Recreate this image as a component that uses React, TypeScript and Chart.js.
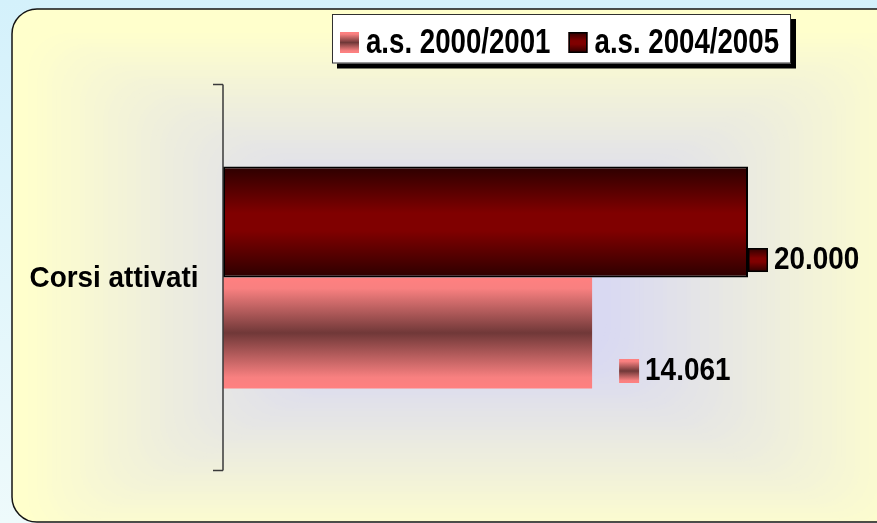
import React, { useEffect, useRef } from 'react';
import { Chart, registerables } from 'chart.js';

Chart.register(...registerables);

// ---- data ----
const categories = ['Corsi attivati'];
const seriesLabels = ['a.s. 2000/2001', 'a.s. 2004/2005'];
const values2000 = [14061];
const values2004 = [20000];
const axisMax = 22000;

const W = 877;
const H = 523;
const FONT = "'Liberation Sans', Arial, Helvetica, sans-serif";
const CAT_PCT = 0.575;

const pinkStops: [number, string][] = [
  [0, '#ff8080'],
  [0.1, '#f88080'],
  [0.5, '#703838'],
  [0.9, '#f88080'],
  [1, '#ff8080'],
];
const darkStops: [number, string][] = [
  [0, '#2c0000'],
  [0.42, '#800000'],
  [0.58, '#800000'],
  [1, '#2c0000'],
];

const fmt = (v: number) => String(v).replace(/\B(?=(\d{3})+(?!\d))/g, '.');

function vGrad(ctx: CanvasRenderingContext2D, top: number, bottom: number, stops: [number, string][]) {
  const g = ctx.createLinearGradient(0, top, 0, bottom);
  stops.forEach(([o, c]) => g.addColorStop(o, c));
  return g;
}

const barGradient = (stops: [number, string][]) => (c: any) => {
  const chart = c.chart;
  const area = chart.chartArea;
  if (!area || !chart.scales.y) return stops[2][1];
  const n = chart.data.labels.length;
  const nd = chart.data.datasets.length;
  const band = ((area.bottom - area.top) / n) * CAT_PCT;
  const chunk = band / nd;
  const top = chart.scales.y.getPixelForValue(c.dataIndex) - band / 2 + c.datasetIndex * chunk;
  return vGrad(chart.ctx, top, top + chunk, stops);
};

function drawText(
  ctx: CanvasRenderingContext2D,
  text: string,
  x: number,
  y: number,
  size: number,
  sx: number,
  align: CanvasTextAlign = 'left'
) {
  ctx.save();
  ctx.font = `bold ${size}px ${FONT}`;
  ctx.textAlign = align;
  ctx.textBaseline = 'alphabetic';
  ctx.fillStyle = '#000';
  ctx.translate(x, y);
  ctx.scale(sx, 1);
  ctx.fillText(text, 0, 0);
  const w = ctx.measureText(text).width * sx;
  ctx.restore();
  return w;
}

function measure(ctx: CanvasRenderingContext2D, text: string, size: number, sx: number) {
  ctx.save();
  ctx.font = `bold ${size}px ${FONT}`;
  const w = ctx.measureText(text).width * sx;
  ctx.restore();
  return w;
}

function lerp(a: number[], b: number[], t: number) {
  return `rgb(${a.map((v, i) => Math.round(v + (b[i] - v) * t)).join(',')})`;
}

function drawSwatch(ctx: CanvasRenderingContext2D, x: number, y: number, w: number, h: number, stops: [number, string][], border: boolean) {
  ctx.save();
  ctx.fillStyle = vGrad(ctx, y, y + h, stops);
  ctx.fillRect(x, y, w, h);
  if (border) {
    ctx.strokeStyle = '#000';
    ctx.lineWidth = 1.5;
    ctx.strokeRect(x + 0.75, y + 0.75, w - 1.5, h - 1.5);
  }
  ctx.restore();
}

const decorPlugin = {
  id: 'decor',
  beforeDraw(chart: any) {
    const ctx: CanvasRenderingContext2D = chart.ctx;
    ctx.save();
    const og = ctx.createLinearGradient(0, 0, 0, H);
    og.addColorStop(0, '#d4f1fb');
    og.addColorStop(1, '#eefafb');
    ctx.fillStyle = og;
    ctx.fillRect(0, 0, W, H);

    const fx = 12, fy = 9, fw = W - fx + 40, fh = 522 - fy, r = 25;
    ctx.beginPath();
    (ctx as any).roundRect(fx, fy, fw, fh, r);
    ctx.save();
    ctx.clip();
    const yellow = [255, 255, 204];
    const lav = [217, 217, 242];
    ctx.fillStyle = lerp(yellow, lav, 0);
    ctx.fillRect(fx, fy, fw, fh);
    const cx = 470, cy = 285, hw = 470, hh = 268;
    const N = 100;
    for (let k = N; k >= 0; k--) {
      const d = k / N;
      const f = Math.max(0, Math.min(1, (0.95 - d) / 0.65));
      ctx.fillStyle = lerp(yellow, lav, f);
      const rr = Math.min(d * hh, 40);
      ctx.beginPath();
      (ctx as any).roundRect(cx - d * hw, cy - d * hh, 2 * d * hw, 2 * d * hh, rr);
      ctx.fill();
      if (f >= 1) break;
    }
    ctx.restore();
    ctx.beginPath();
    (ctx as any).roundRect(fx, fy, fw, fh, r);
    ctx.strokeStyle = '#151515';
    ctx.lineWidth = 1.5;
    ctx.stroke();
    ctx.restore();
  },
  afterDatasetsDraw(chart: any) {
    const ctx: CanvasRenderingContext2D = chart.ctx;
    const xs = chart.scales.x;
    const ys = chart.scales.y;
    const area = chart.chartArea;
    const x0 = xs.getPixelForValue(0);

    // category axis line with boundary ticks
    ctx.save();
    ctx.strokeStyle = '#3a3a3a';
    ctx.lineWidth = 1.5;
    ctx.beginPath();
    ctx.moveTo(x0, area.top);
    ctx.lineTo(x0, area.bottom);
    const n = categories.length;
    const step = (area.bottom - area.top) / n;
    for (let i = 0; i <= n; i++) {
      const ty = area.top + i * step;
      ctx.moveTo(x0 - 10, ty);
      ctx.lineTo(x0, ty);
    }
    ctx.stroke();
    ctx.restore();

    // category labels
    categories.forEach((c, i) => {
      const cy = ys.getPixelForValue(i);
      drawText(ctx, c, x0 - 24.5, cy + 9, 30, 0.93, 'right');
    });

    // value labels with legend keys
    const dxs = [0, 27];
    chart.data.datasets.forEach((ds: any, di: number) => {
      const meta = chart.getDatasetMeta(di);
      const stops = di === 0 ? darkStops : pinkStops;
      meta.data.forEach((el: any, i: number) => {
        const { x, y } = el.getProps(['x', 'y'], true);
        const sx = x + dxs[di];
        drawSwatch(ctx, sx, y + 26, 20, 24, stops, di === 0);
        drawText(ctx, fmt(ds.data[i]), sx + 26, y + 47, 31, 0.9, 'left');
      });
    });

    // legend box
    const lsize = 35, lsx = 0.79;
    const items = [
      { label: seriesLabels[0], stops: pinkStops, border: false },
      { label: seriesLabels[1], stops: darkStops, border: true },
    ];
    const widths = items.map((it) => measure(ctx, it.label, lsize, lsx));
    const pad = 8, swW = 19, swGap = 7, itemGap = 18;
    const total = pad + widths.reduce((s, w) => s + swW + swGap + w, 0) + itemGap * (items.length - 1) + 12;
    const bx = 561.5 - total / 2, by = 14, bh = 49.5;
    ctx.save();
    ctx.fillStyle = '#000';
    ctx.fillRect(bx + 5, by + 5, total, bh);
    ctx.fillStyle = '#fff';
    ctx.fillRect(bx, by, total, bh);
    ctx.strokeStyle = '#303030';
    ctx.lineWidth = 1;
    ctx.strokeRect(bx + 0.5, by + 0.5, total - 1, bh - 1);
    ctx.restore();
    let cx = bx + pad;
    items.forEach((it, k) => {
      drawSwatch(ctx, cx, 32, swW, 21, it.stops, it.border);
      cx += swW + swGap;
      drawText(ctx, it.label, cx, 53.3, lsize, lsx, 'left');
      cx += widths[k] + itemGap;
    });
  },
};

export default function App() {
  const ref = useRef<HTMLCanvasElement | null>(null);
  useEffect(() => {
    if (!ref.current) return;
    const chart = new Chart(ref.current, {
      type: 'bar',
      data: {
        labels: categories,
        datasets: [
          {
            label: seriesLabels[1],
            data: values2004,
            backgroundColor: barGradient(darkStops),
            borderColor: '#000',
            borderWidth: 2,
            borderSkipped: false,
            categoryPercentage: CAT_PCT,
            barPercentage: 1,
          },
          {
            label: seriesLabels[0],
            data: values2000,
            backgroundColor: barGradient(pinkStops),
            borderWidth: 0,
            categoryPercentage: CAT_PCT,
            barPercentage: 1,
          },
        ],
      },
      options: {
        indexAxis: 'y',
        responsive: false,
        animation: false,
        devicePixelRatio: 1,
        layout: { padding: { left: 223, right: 76.5, top: 84.5, bottom: 52.5 } },
        scales: {
          x: { display: false, min: 0, max: axisMax },
          y: { display: false, offset: true },
        },
        plugins: {
          legend: { display: false },
          tooltip: { enabled: false },
        },
      },
      plugins: [decorPlugin],
    } as any);
    return () => chart.destroy();
  }, []);
  return (
    <div style={{ position: 'fixed', left: 0, top: 0, width: W, height: H, overflow: 'hidden' }}>
      <canvas ref={ref} width={W} height={H} style={{ display: 'block', width: W, height: H }} />
    </div>
  );
}
